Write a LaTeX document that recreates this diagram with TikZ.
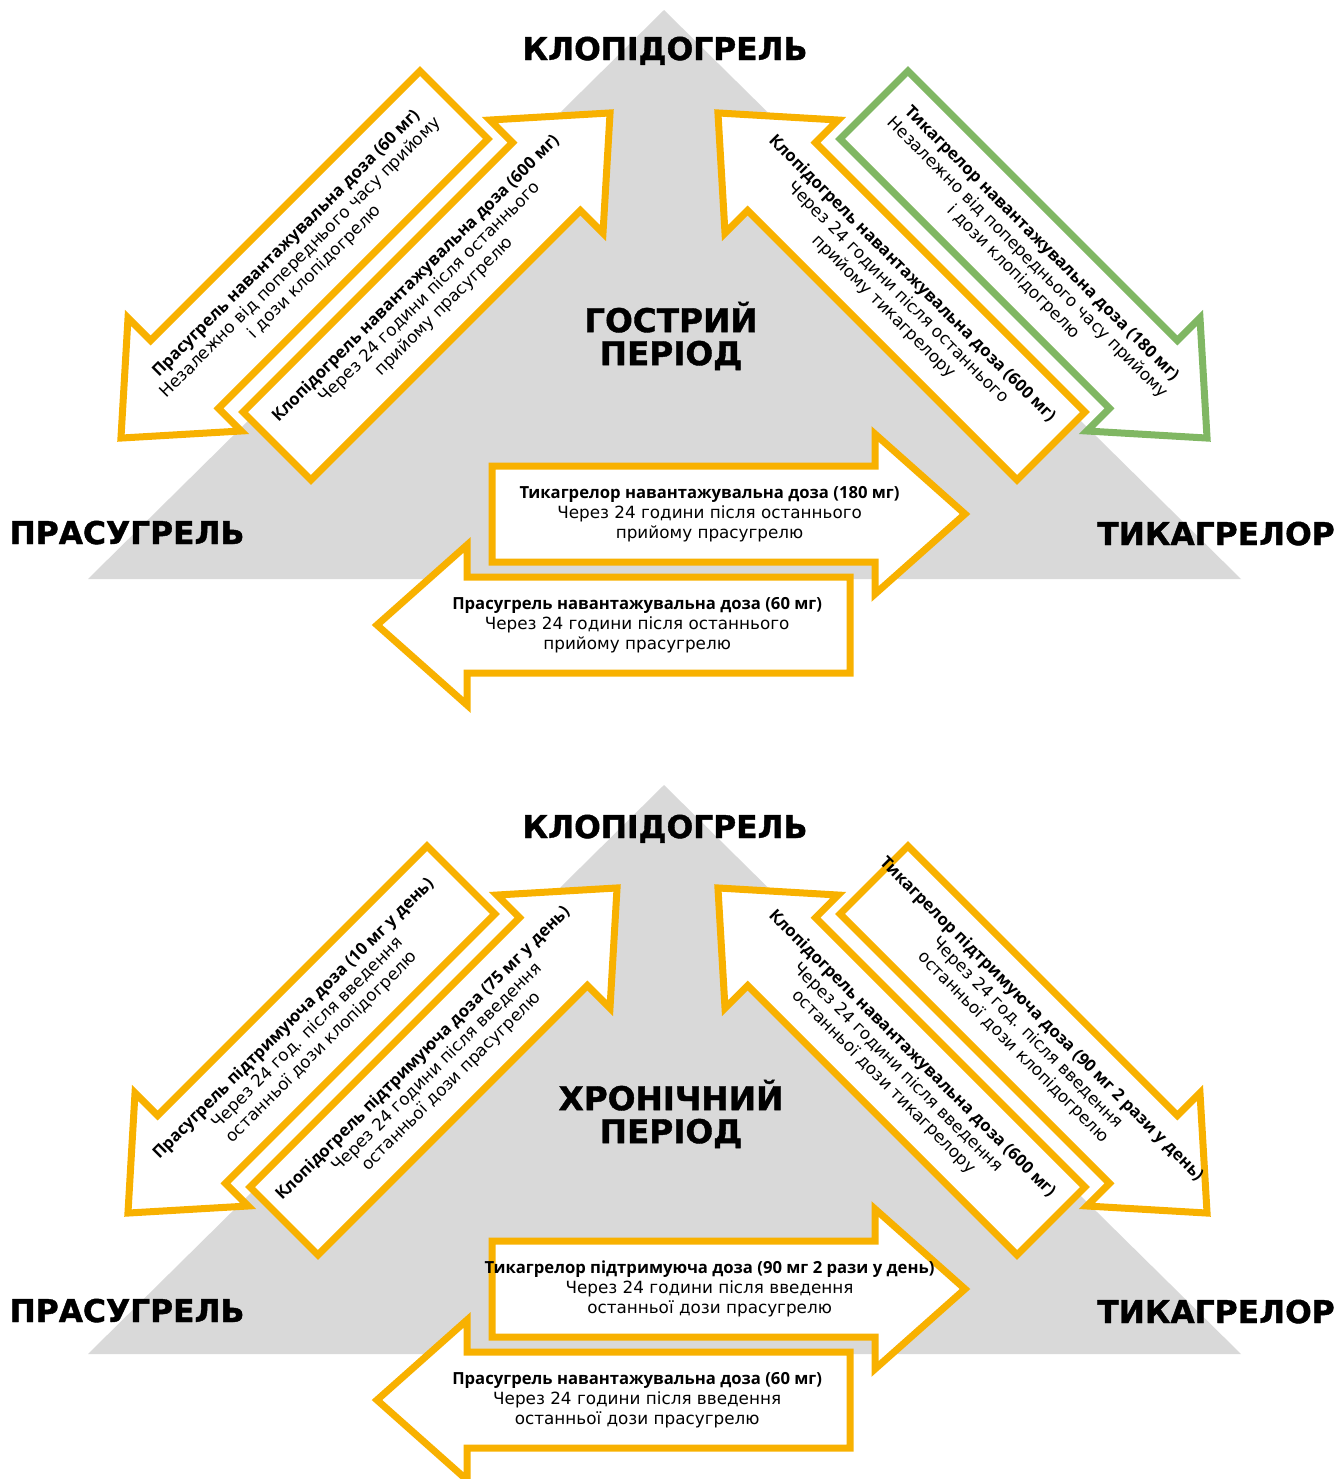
\documentclass[tikz,border=0pt]{standalone}
\usepackage{fontspec}
\setmainfont{DejaVu Sans}
\newfontfamily\osans{Open Sans}
\newfontfamily\titlefont{DejaVu Sans}[BoldFeatures={FakeBold=1.2}]
\usetikzlibrary{calc}
\definecolor{yel}{HTML}{F8B100}
\definecolor{grn}{HTML}{80B763}
\definecolor{tri}{HTML}{D9D9D9}
\newcommand\bhead[1]{{\osans\bfseries\fontsize{12.5}{15}\selectfont #1}}
\tikzset{
  arrowbox/.style={draw=yel, fill=white, line width=5.25pt, line join=miter, miter limit=10},
  greenbox/.style={arrowbox, draw=grn},
  txt/.style={align=center, font=\fontsize{12.6}{15}\selectfont, inner sep=0pt},
  drug/.style={anchor=base, font=\titlefont\bfseries\fontsize{23.5}{26}\selectfont, inner sep=0pt},
  period/.style={align=center, font=\titlefont\bfseries\fontsize{24.5}{24.75}\selectfont, inner sep=0pt},
}
% #1 style, #2 tail coordinate, #3 angle, #4 length
\newcommand\blockarrow[4]{%
  \begin{scope}[shift={#2}, rotate=#3]
    \draw[#1] (0,-48) -- ({#4-90},-48) -- ({#4-90},-80) -- (#4,0) -- ({#4-90},80) -- ({#4-90},48) -- (0,48) -- cycle;
  \end{scope}}
\begin{document}
\begin{tikzpicture}[x=0.75pt, y=-0.75pt]
\useasboundingbox (0,0) rectangle (1339,1479);

% ================= TOP: acute period =================
\fill[tri] (88,579) -- (664,10) -- (1241,579) -- cycle;

\coordinate (a1tail) at (454,105);  \coordinate (a1tip) at (121,438);
\coordinate (a2tail) at (277,446);  \coordinate (a2tip) at (610,113);
\coordinate (a3tail) at (1051,446); \coordinate (a3tip) at (718,113);
\coordinate (a4tail) at (874,105);  \coordinate (a4tip) at (1207,438);
\coordinate (a5tail) at (492,514);  \coordinate (a5tip) at (965,514);
\coordinate (a6tail) at (850,625);  \coordinate (a6tip) at (377,625);

\blockarrow{arrowbox}{(a2tail)}{45}{471}
\blockarrow{arrowbox}{(a1tail)}{225}{471}
\blockarrow{arrowbox}{(a3tail)}{135}{471}
\blockarrow{greenbox}{(a4tail)}{-45}{471}
\blockarrow{arrowbox}{(a5tail)}{0}{473}
\blockarrow{arrowbox}{(a6tail)}{180}{473}

\node[drug] (clo1) at (665,60) {КЛОПІДОГРЕЛЬ};
\node[drug] (pra1) at (127,544) {ПРАСУГРЕЛЬ};
\node[drug] (tic1) at (1216,545) {ТИКАГРЕЛОР};
\node[period] (per1) at (671,336) {ГОСТРИЙ\\ПЕРІОД};

\node[txt, rotate=45] (t1) at ($(a1tail)!0.46!(a1tip)$) {\bhead{Прасугрель навантажувальна доза (60 мг)}\\Незалежно від попереднього часу прийому\\і дози клопідогрелю};
\node[txt, rotate=45] (t2) at ($(a2tail)!0.46!(a2tip)$) {\bhead{Клопідогрель навантажувальна доза (600 мг)}\\Через 24 години після останнього\\прийому прасугрелю};
\node[txt, rotate=-45] (t3) at ($(a3tail)!0.46!(a3tip)$) {\bhead{Клопідогрель навантажувальна доза (600 мг)}\\Через 24 години після останнього\\прийому тикагрелору};
\node[txt, rotate=-45] (t4) at ($(a4tail)!0.46!(a4tip)$) {\bhead{Тикагрелор навантажувальна доза (180 мг)}\\Незалежно від попереднього часу прийому\\і дози клопідогрелю};
\node[txt] (t5) at ($(a5tail)!0.46!(a5tip)$) {\bhead{Тикагрелор навантажувальна доза (180 мг)}\\Через 24 години після останнього\\прийому прасугрелю};
\node[txt] (t6) at ($(a6tail)!0.45!(a6tip)$) {\bhead{Прасугрель навантажувальна доза (60 мг)}\\Через 24 години після останнього\\прийому прасугрелю};

% ================= BOTTOM: chronic period =================
\fill[tri] (88,1354) -- (664,785) -- (1241,1354) -- cycle;

\coordinate (b1tail) at (461,880);   \coordinate (b1tip) at (128,1213);
\coordinate (b2tail) at (284,1221);  \coordinate (b2tip) at (617,888);
\coordinate (b3tail) at (1051,1221); \coordinate (b3tip) at (718,888);
\coordinate (b4tail) at (874,880);   \coordinate (b4tip) at (1207,1213);
\coordinate (b5tail) at (492,1289);  \coordinate (b5tip) at (965,1289);
\coordinate (b6tail) at (850,1400);  \coordinate (b6tip) at (377,1400);

\blockarrow{arrowbox}{(b2tail)}{45}{471}
\blockarrow{arrowbox}{(b1tail)}{225}{471}
\blockarrow{arrowbox}{(b3tail)}{135}{471}
\blockarrow{arrowbox}{(b4tail)}{-45}{471}
\blockarrow{arrowbox}{(b5tail)}{0}{473}
\blockarrow{arrowbox}{(b6tail)}{180}{473}

\node[drug] (clo2) at (665,838) {КЛОПІДОГРЕЛЬ};
\node[drug] (pra2) at (127,1322) {ПРАСУГРЕЛЬ};
\node[drug] (tic2) at (1216,1323) {ТИКАГРЕЛОР};
\node[period] (per2) at (671,1114) {ХРОНІЧНИЙ\\ПЕРІОД};

\node[txt, rotate=45] (s1) at ($(b1tail)!0.46!(b1tip)$) {\bhead{Прасугрель підтримуюча доза (10 мг у день)}\\Через 24 год. після введення\\останньої дози клопідогрелю};
\node[txt, rotate=45] (s2) at ($(b2tail)!0.46!(b2tip)$) {\bhead{Клопідогрель підтримуюча доза (75 мг у день)}\\Через 24 години після введення\\останньої дози прасугрелю};
\node[txt, rotate=-45] (s3) at ($(b3tail)!0.46!(b3tip)$) {\bhead{Клопідогрель навантажувальна доза (600 мг)}\\Через 24 години після введення\\останньої дози тикагрелору};
\node[txt, rotate=-45] (s4) at ($(b4tail)!0.46!(b4tip)$) {\bhead{Тикагрелор підтримуюча доза (90 мг 2 рази у день)}\\Через 24 год. після введення\\останньої дози клопідогрелю};
\node[txt] (s5) at ($(b5tail)!0.46!(b5tip)$) {\bhead{Тикагрелор підтримуюча доза (90 мг 2 рази у день)}\\Через 24 години після введення\\останньої дози прасугрелю};
\node[txt] (s6) at ($(b6tail)!0.45!(b6tip)$) {\bhead{Прасугрель навантажувальна доза (60 мг)}\\Через 24 години після введення\\останньої дози прасугрелю};
\end{tikzpicture}
\end{document}
